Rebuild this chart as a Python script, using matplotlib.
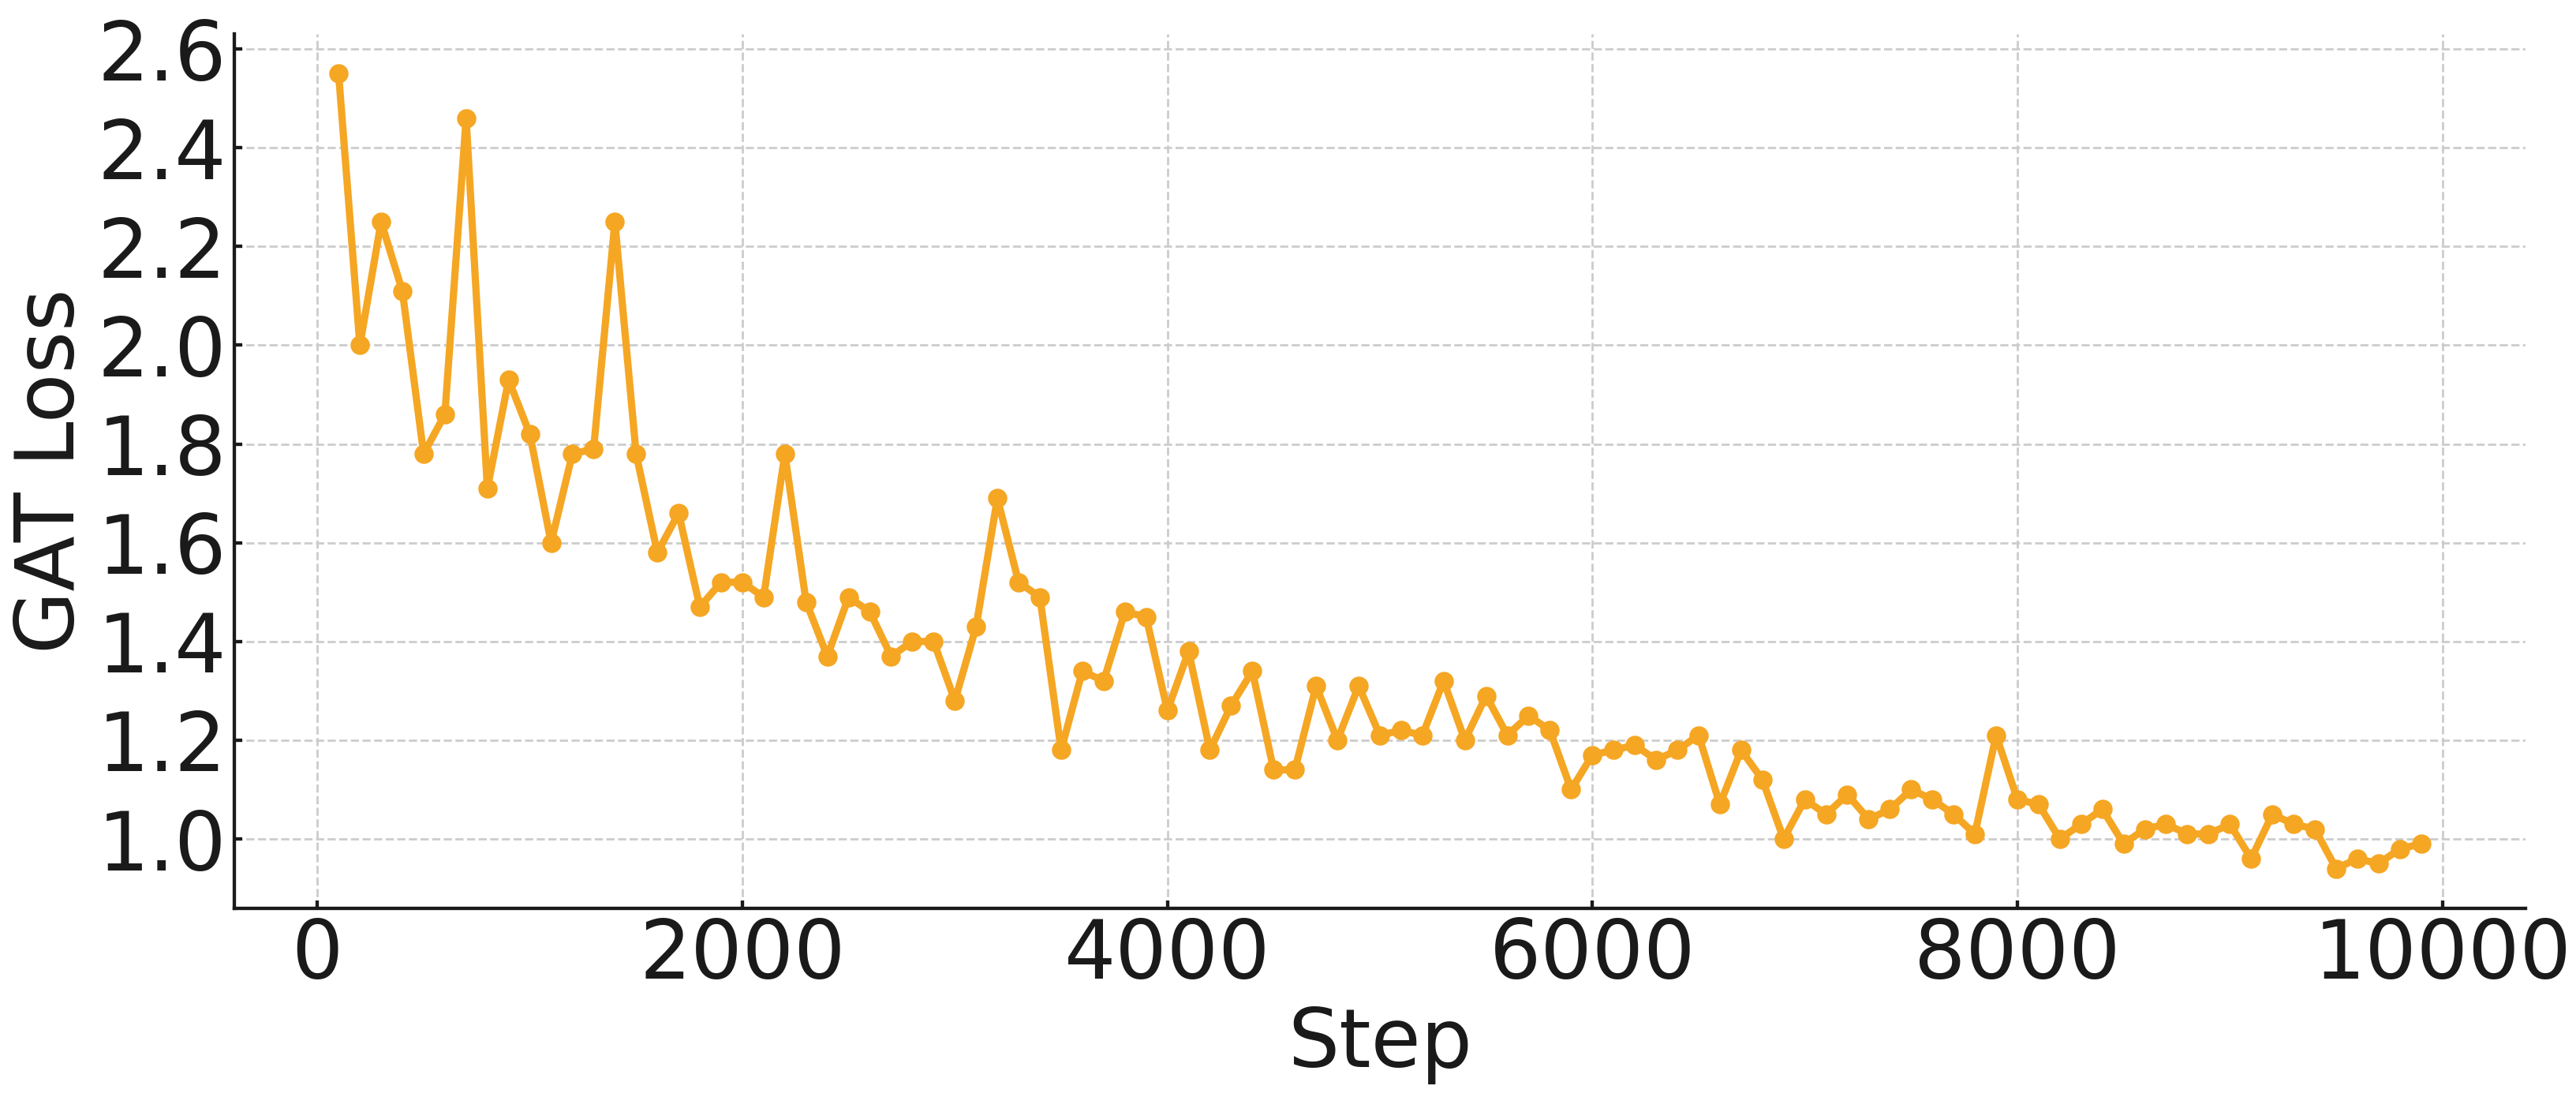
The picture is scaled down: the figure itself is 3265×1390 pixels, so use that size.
import numpy as np
import matplotlib
matplotlib.use("Agg")
import matplotlib.pyplot as plt

# training steps and GAT loss
steps = np.arange(100, 10000, 100)
loss = [
    2.55, 2.00, 2.25, 2.11, 1.78, 1.86, 2.46, 1.71, 1.93, 1.82,
    1.60, 1.78, 1.79, 2.25, 1.78, 1.58, 1.66, 1.47, 1.52, 1.52,
    1.49, 1.78, 1.48, 1.37, 1.49, 1.46, 1.37, 1.40, 1.40, 1.28,
    1.43, 1.69, 1.52, 1.49, 1.18, 1.34, 1.32, 1.46, 1.45, 1.26,
    1.38, 1.18, 1.27, 1.34, 1.14, 1.14, 1.31, 1.20, 1.31, 1.21,
    1.22, 1.21, 1.32, 1.20, 1.29, 1.21, 1.25, 1.22, 1.10, 1.17,
    1.18, 1.19, 1.16, 1.18, 1.21, 1.07, 1.18, 1.12, 1.00, 1.08,
    1.05, 1.09, 1.04, 1.06, 1.10, 1.08, 1.05, 1.01, 1.21, 1.08,
    1.07, 1.00, 1.03, 1.06, 0.99, 1.02, 1.03, 1.01, 1.01, 1.03,
    0.96, 1.05, 1.03, 1.02, 0.94, 0.96, 0.95, 0.98, 0.99,
]

dark = "#1a1a1a"
orange = "#F5A623"

fig = plt.figure(figsize=(16.33, 6.95), dpi=200)
ax = fig.add_axes([0.091, 0.172, 0.889, 0.797])

ax.plot(steps, loss, color=orange, lw=3.3, marker="o", ms=7.8)

ax.set_xlabel("Step", fontsize=37, color=dark)
ax.set_ylabel("GAT Loss", fontsize=37, color=dark, labelpad=3)
ax.set_yticks(np.arange(1.0, 2.61, 0.2))
ax.set_xticks([0, 2000, 4000, 6000, 8000, 10000])

ax.tick_params(direction="in", labelsize=37, length=3.6, width=1.56,
               colors=dark, labelcolor=dark)
ax.grid(True, ls="--", color="#cccccc", lw=1.0)
ax.set_axisbelow(True)

for side in ["top", "right"]:
    ax.spines[side].set_visible(False)
for side in ["left", "bottom"]:
    ax.spines[side].set_linewidth(1.56)
    ax.spines[side].set_color(dark)

fig.savefig("out.png", dpi=200)
